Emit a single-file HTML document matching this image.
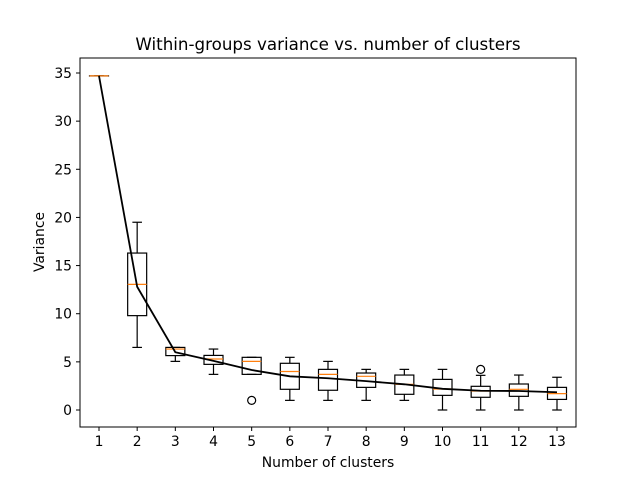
<!DOCTYPE html>
<html><head><meta charset="utf-8"><style>body{margin:0;background:#fff}svg{display:block;font-family:"DejaVu Sans","Liberation Sans",sans-serif}</style></head>
<body>
<svg id="chart" width="640" height="480" viewBox="0 0 640 480">
<rect width="640" height="480" fill="#fff"/>
<text x="328" y="50" font-size="16.7" text-anchor="middle">Within-groups variance vs. number of clusters</text>
<text x="328" y="467" font-size="13.9" text-anchor="middle">Number of clusters</text>
<text x="0" y="0" font-size="13.9" text-anchor="middle" transform="translate(44,242) rotate(-90)">Variance</text>
<g id="plot"></g>
<rect x="80" y="58" width="496" height="369" fill="none" stroke="#000" stroke-width="1"/>
</svg>
<script>
const categories=[1,2,3,4,5,6,7,8,9,10,11,12,13];
const q1=[34.7,9.8,5.65,4.74,3.7,2.15,2.05,2.35,1.63,1.52,1.32,1.42,1.1];
const q3=[34.7,16.3,6.5,5.67,5.47,4.85,4.22,3.84,3.63,3.18,2.46,2.7,2.35];
const medians=[34.7,13.05,6.33,5.3,5.05,4.0,3.7,3.5,2.67,2.18,1.97,2.15,1.7];
const whiskerLow=[34.7,6.5,5.05,3.7,3.7,1.0,1.0,1.0,1.0,0,0,0,0];
const whiskerHigh=[34.7,19.5,6.5,6.33,5.47,5.47,5.05,4.22,4.22,4.22,3.6,3.63,3.4];
const outliers=[[],[],[],[],[1.0],[],[],[],[],[],[4.22],[],[]];
const means=[34.7,12.8,6.0,5.1,4.15,3.5,3.3,3.0,2.67,2.2,2.0,1.97,1.84];
const yTicks=[0,5,10,15,20,25,30,35];
const NS="http://www.w3.org/2000/svg";
const g=document.getElementById('plot');
const X=c=>99+(c-1)*(557-99)/12;
const Y=v=>410-v*(410-73)/35;
function mk(t,a){const e=document.createElementNS(NS,t);for(const k in a)e.setAttribute(k,a[k]);g.appendChild(e);return e;}
yTicks.forEach(v=>{
 const l=mk('line',{x1:76,x2:80,y1:Y(v),y2:Y(v),stroke:'#000'});
 
 
 const t=mk('text',{x:72,y:Y(v)+5,'font-size':13.9,'text-anchor':'end'});t.textContent=v;
 
 
});
categories.forEach((c,i)=>{
 const x=X(c),hw=9.5,cw=4.8;
 const tk=mk('line',{x1:x,x2:x,y1:427,y2:431,stroke:'#000'});
 
 
 const t=mk('text',{x:x,y:446,'font-size':13.9,'text-anchor':'middle'});t.textContent=c;
 
 
 const s={stroke:'#000','stroke-width':1.2,fill:'none'};
 mk('line',Object.assign({x1:x,x2:x,y1:Y(q3[i]),y2:Y(whiskerHigh[i])},s));
 mk('line',Object.assign({x1:x,x2:x,y1:Y(q1[i]),y2:Y(whiskerLow[i])},s));
 mk('line',Object.assign({x1:x-cw,x2:x+cw,y1:Y(whiskerHigh[i]),y2:Y(whiskerHigh[i])},s));
 mk('line',Object.assign({x1:x-cw,x2:x+cw,y1:Y(whiskerLow[i]),y2:Y(whiskerLow[i])},s));
 const b=mk('rect',Object.assign({x:x-hw,y:Y(q3[i]),width:2*hw,height:Math.max(0.1,Y(q1[i])-Y(q3[i]))},s));
 
 
 const m=mk('line',{x1:x-hw,x2:x+hw,y1:Y(medians[i]),y2:Y(medians[i]),stroke:'#ff7f0e','stroke-width':1.2});
 
 
 outliers[i].forEach(v=>{
  const o=mk('circle',{cx:x,cy:Y(v),r:4,fill:'none',stroke:'#000','stroke-width':1.2});
  
  
 });
});
const p=mk('polyline',{points:categories.map((c,i)=>X(c)+','+Y(means[i])).join(' '),fill:'none',stroke:'#000','stroke-width':1.8});


</script>
</body></html>
